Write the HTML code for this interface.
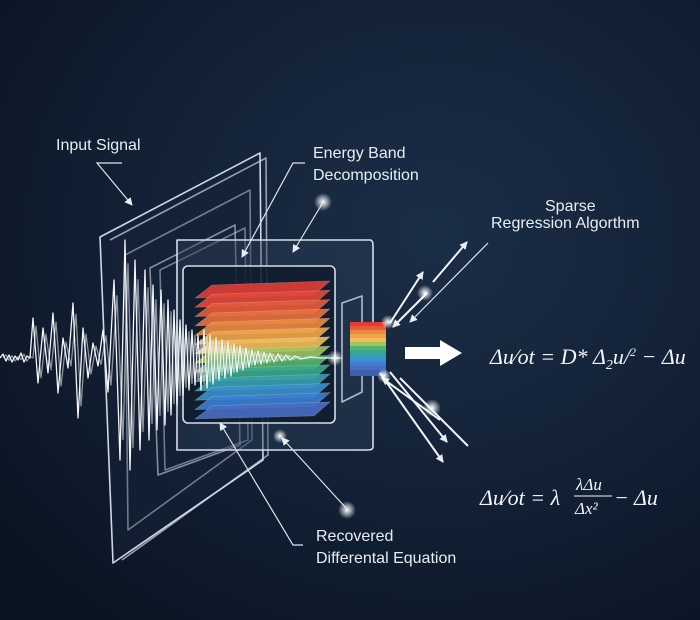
<!DOCTYPE html>
<html><head><meta charset="utf-8"><style>
html,body{margin:0;padding:0;background:#0c1626;}
svg{display:block}
.lbl{font-family:"Liberation Sans",sans-serif;font-size:16px;fill:#e8edf3}
.eq{font-family:"Liberation Serif",serif;font-style:italic;fill:#f2f4f7}
</style></head><body>
<svg width="700" height="620" viewBox="0 0 700 620" xmlns="http://www.w3.org/2000/svg">
<defs>
<radialGradient id="bg" cx="0.62" cy="0.38" r="0.8">
<stop offset="0" stop-color="#1b2e47"/><stop offset="0.6" stop-color="#111f33"/><stop offset="1" stop-color="#0a1321"/>
</radialGradient>
<radialGradient id="glow"><stop offset="0" stop-color="#fff"/><stop offset="0.3" stop-color="#fff" stop-opacity="0.7"/><stop offset="1" stop-color="#fff" stop-opacity="0"/></radialGradient>
<marker id="ah" markerWidth="8" markerHeight="8" refX="7" refY="4" orient="auto" markerUnits="userSpaceOnUse"><path d="M0,0 L8,4 L0,8 z" fill="#e8edf3"/></marker>
</defs>
<rect width="700" height="620" fill="url(#bg)"/>
<g fill="none" stroke="#cfd8e3" stroke-width="1.6" stroke-linejoin="round">
<path d="M100,237 L260,153 L263,460 L113,563 Z" fill="#152238" fill-opacity="0.5"/>
<path d="M110,240 L266,158 L268,455 L122,560" stroke-opacity="0.7"/>
<path d="M125,255 L250,190 L252,440 L128,530 Z" stroke-opacity="0.5"/>
<path d="M150,268 L235,225 L240,445 L158,475 Z" stroke-opacity="0.6"/>
<path d="M160,270 L245,228 L248,440 L165,470 Z" stroke-opacity="0.5"/>
</g>
<g fill="none" stroke="#d6dee8" stroke-width="1.6" stroke-linejoin="round">
<path d="M177,240 L370,240 Q373,240 373,246 L373,447 Q373,450 368,450 L177,450 Z" fill="#2a3d57" fill-opacity="0.45"/>
<rect x="183" y="266" width="152" height="157" rx="5" fill="#0e1a2a" fill-opacity="0.8"/>
<path d="M342,303 L362,296 L362,392 L342,402 Z" stroke-opacity="0.8"/>
</g>
<g stroke="#ffffff" stroke-opacity="0.25" stroke-width="0.6" fill-opacity="0.9">
<polygon points="212,285 330,281 314,295 195,298" fill="#e23c35"/>
<polygon points="212,294.3 330,290.3 314,304.3 195,307.3" fill="#e4483a"/>
<polygon points="212,303.6 330,299.6 314,313.6 195,316.6" fill="#e65b3b"/>
<polygon points="212,312.9 330,308.9 314,322.9 195,325.9" fill="#e9713d"/>
<polygon points="212,322.2 330,318.2 314,332.2 195,335.2" fill="#ec8a40"/>
<polygon points="212,331.5 330,327.5 314,341.5 195,344.5" fill="#f0a64a"/>
<polygon points="212,340.8 330,336.8 314,350.8 195,353.8" fill="#f2bd5a"/>
<polygon points="212,350.1 330,346.1 314,360.1 195,363.1" fill="#9fc35e"/>
<polygon points="212,359.4 330,355.4 314,369.4 195,372.4" fill="#55b46c"/>
<polygon points="212,368.7 330,364.7 314,378.7 195,381.7" fill="#3aa98a"/>
<polygon points="212,378 330,374 314,388 195,391" fill="#37a0b0"/>
<polygon points="212,387.3 330,383.3 314,397.3 195,400.3" fill="#3890cc"/>
<polygon points="212,396.6 330,392.6 314,406.6 195,409.6" fill="#3b7ed2"/>
<polygon points="212,405.9 330,401.9 314,415.9 195,418.9" fill="#4a6cc4"/>
</g>
<g>
<rect x="350" y="322" width="36" height="5" fill="#e23c35"/>
<rect x="350" y="326" width="36" height="5" fill="#e65b3b"/>
<rect x="350" y="330" width="36" height="5" fill="#ec8a40"/>
<rect x="350" y="334" width="36" height="5" fill="#f0a64a"/>
<rect x="350" y="338" width="36" height="5" fill="#f2bd5a"/>
<rect x="350" y="342" width="36" height="5" fill="#9fc35e"/>
<rect x="350" y="346" width="36" height="5" fill="#55b46c"/>
<rect x="350" y="350" width="36" height="5" fill="#3aa98a"/>
<rect x="350" y="354" width="36" height="5" fill="#37a0b0"/>
<rect x="350" y="358" width="36" height="5" fill="#3890cc"/>
<rect x="350" y="362" width="36" height="5" fill="#3b7ed2"/>
<rect x="350" y="366" width="36" height="5" fill="#4a6cc4"/>
<rect x="350" y="370" width="36" height="6" fill="#3d5fae"/>
</g>
<g fill="none" stroke="#f4f6f8" stroke-linejoin="round">
<polyline id="wv" stroke-width="1.3" points="0,358 3,354 6,361 9,355 12,362 15,356 18,360 21,353 24,362 27,356 30,358 33,318 38,383 43,328 48,373 53,313 58,393 63,338 68,368 73,303 78,418 83,328 88,378 93,343 98,366 103,330 108,392 114,280 120,460 125,240 130,470 135,260 140,450 145,270 149,440 153,285 157,430 161,290 165,425 168,300 171,415 174,310 177,405 180,320 183,395 186,325 189,390 192,330 195,385 198,335 201,390 204,330 207,388 210,335 213,384 216,338 219,380 222,340 225,378 228,342 231,376 234,344 237,372 240,346 243,370 246,348 249,367 252,350 255,365 258,351 261,364 264,352 267,363 270,353 274,362 278,354 282,361 286,355 290,360 295,356 300,359 310,357 320,358 340,358"/>
<use href="#wv" stroke-width="1" stroke-opacity="0.55" transform="translate(3,358) scale(1,0.8) translate(0,-358)"/>
</g>
<path d="M405,347 L440,347 L440,340 L462,353 L440,366 L440,359 L405,359 Z" fill="#ffffff"/>
<g stroke="#f2f4f7" stroke-width="2" marker-end="url(#ah)">
<line x1="390" y1="323" x2="423" y2="272"/>
<line x1="433" y1="282" x2="467" y2="242"/>
<line x1="427" y1="293" x2="393" y2="327"/>
<line x1="380" y1="373" x2="443" y2="462"/>
<line x1="390" y1="372" x2="447" y2="442"/>
<line x1="440" y1="420" x2="382" y2="378"/>
</g>
<line x1="468" y1="446" x2="400" y2="378" stroke="#f2f4f7" stroke-width="2"/>
<g stroke="#dfe5ec" stroke-width="1.2" fill="none">
<polyline points="488,243 410,322" marker-end="url(#ah)"/>
<polyline points="122,163 97,163 132,205" marker-end="url(#ah)"/>
<polyline points="305,163 293,163 242,257" marker-end="url(#ah)"/>
<line x1="322" y1="204" x2="293" y2="252" marker-end="url(#ah)"/>
<polyline points="303,545 293,545 220,423" marker-end="url(#ah)"/>
<line x1="346" y1="508" x2="282" y2="438" marker-end="url(#ah)"/>
</g>
<g fill="url(#glow)">
<circle cx="323" cy="202" r="9"/><circle cx="347" cy="510" r="9"/><circle cx="280" cy="436" r="7"/>
<circle cx="335" cy="358" r="8"/><circle cx="425" cy="293" r="8"/><circle cx="432" cy="408" r="9"/><circle cx="388" cy="322" r="7"/><circle cx="384" cy="376" r="7"/>
</g>
<text class="lbl" x="56" y="150">Input Signal</text>
<text class="lbl" x="313" y="158">Energy Band</text>
<text class="lbl" x="313" y="180">Decomposition</text>
<text class="lbl" x="545" y="211">Sparse</text>
<text class="lbl" x="491" y="228">Regression Algorthm</text>
<text class="lbl" x="316" y="541">Recovered</text>
<text class="lbl" x="316" y="563">Differental Equation</text>
<text class="eq" x="490" y="364" font-size="22">Δu<tspan font-style="normal">⁄</tspan>ot = D* Δ<tspan font-size="14" dy="5">2</tspan><tspan dy="-5">u/</tspan><tspan font-size="12" dy="-8">2</tspan><tspan dy="8"> − Δu</tspan></text>
<text class="eq" x="480" y="505" font-size="22">Δu<tspan font-style="normal">⁄</tspan>ot = λ</text>
<text class="eq" x="576" y="490" font-size="17">λΔu</text>
<line x1="574" y1="496" x2="612" y2="496" stroke="#f2f4f7" stroke-width="1"/>
<text class="eq" x="575" y="514" font-size="17">Δx²</text>
<text class="eq" x="614" y="505" font-size="22">− Δu</text>
</svg>
</body></html>
